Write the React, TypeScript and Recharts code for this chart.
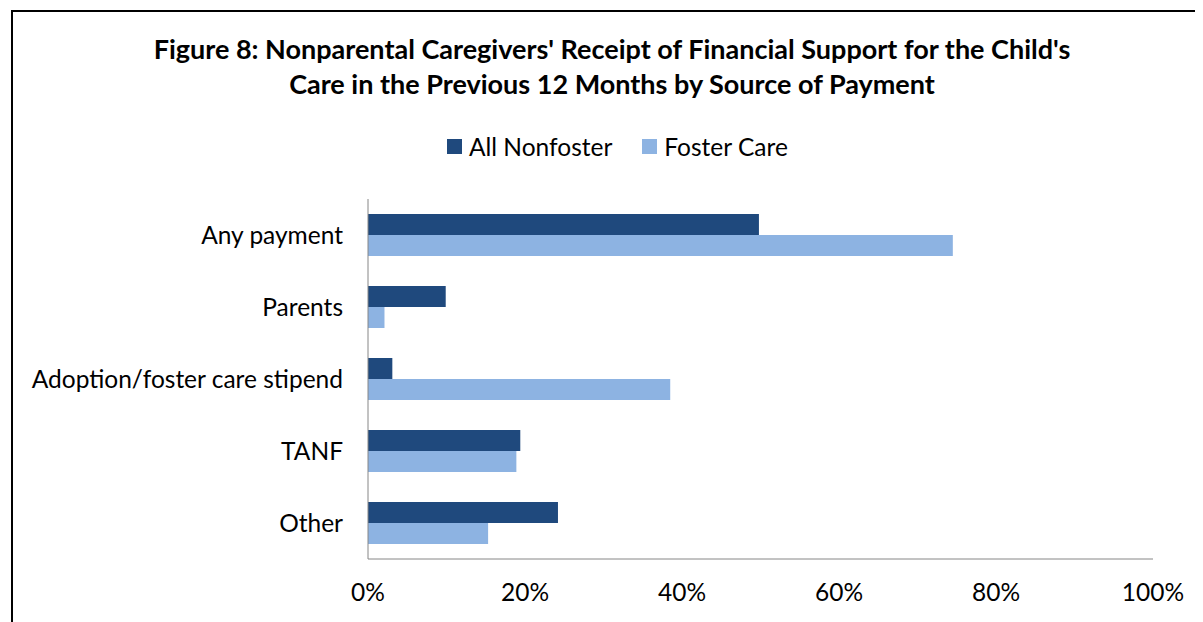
import React from 'react';
import { BarChart, Bar, XAxis, YAxis } from 'recharts';

const categories = ['Any payment', 'Parents', 'Adoption/foster care stipend', 'TANF', 'Other'];
const nonfoster = [49.8, 9.9, 3.1, 19.4, 24.2];
const fosterCare = [74.5, 2.1, 38.5, 18.9, 15.3];
const xTicks = [0, 20, 40, 60, 80, 100];

const DARK = '#1F497D';
const LIGHT = '#8DB3E2';
const FONT = 'Lato, "Open Sans", sans-serif';
const LABEL_SIZE = 24.5;

const data = categories.map((name, i) => ({
  name,
  nonfoster: nonfoster[i],
  foster: fosterCare[i],
}));

function LegendItem({ color, label }: { color: string; label: string }) {
  return (
    <span style={{ display: 'inline-flex', alignItems: 'center', marginRight: 30 }}>
      <span style={{ width: 15, height: 15, background: color, display: 'inline-block', marginRight: 7 }} />
      <span>{label}</span>
    </span>
  );
}

export default function App() {
  return (
    <div style={{ position: 'relative', width: 1195, height: 614, overflow: 'hidden', fontFamily: FONT }}>
      {/* chart frame: only top and left edges are visible */}
      <div
        style={{
          position: 'absolute',
          left: 3,
          top: 2,
          width: 1300,
          height: 700,
          borderLeft: '2px solid #000',
          borderTop: '2px solid #000',
        }}
      />
      <div
        style={{
          position: 'absolute',
          left: 0,
          width: 1208,
          top: 23,
          textAlign: 'center',
          fontWeight: 700,
          fontSize: 27,
          lineHeight: '35px',
          color: '#000',
        }}
      >
        Figure 8: Nonparental Caregivers' Receipt of Financial Support for the Child's
        <br />
        Care in the Previous 12 Months by Source of Payment
      </div>
      <div
        style={{
          position: 'absolute',
          left: 439,
          top: 122,
          fontSize: LABEL_SIZE,
          color: '#000',
          whiteSpace: 'nowrap',
        }}
      >
        <LegendItem color={DARK} label="All Nonfoster" />
        <LegendItem color={LIGHT} label="Foster Care" />
      </div>
      <div style={{ position: 'absolute', left: 0, top: 0 }}>
        <BarChart
          width={1195}
          height={614}
          data={data}
          layout="vertical"
          margin={{ top: 191, right: 50, bottom: 23, left: 0 }}
          barCategoryGap={15}
          barGap={0}
        >
          <XAxis
            type="number"
            domain={[0, 100]}
            ticks={xTicks}
            tickFormatter={(v: number) => `${v}%`}
            tickLine={false}
            tickSize={0}
            tickMargin={25}
            height={40}
            stroke="#868686"
            tick={{ fill: '#000', fontSize: LABEL_SIZE, fontFamily: FONT }}
            interval={0}
          />
          <YAxis
            type="category"
            dataKey="name"
            width={360}
            tickLine={false}
            tickSize={0}
            tickMargin={25}
            stroke="#868686"
            tick={{ fill: '#000', fontSize: LABEL_SIZE, fontFamily: FONT }}
            interval={0}
          />
          <Bar dataKey="nonfoster" fill={DARK} isAnimationActive={false} />
          <Bar dataKey="foster" fill={LIGHT} isAnimationActive={false} />
        </BarChart>
      </div>
    </div>
  );
}
